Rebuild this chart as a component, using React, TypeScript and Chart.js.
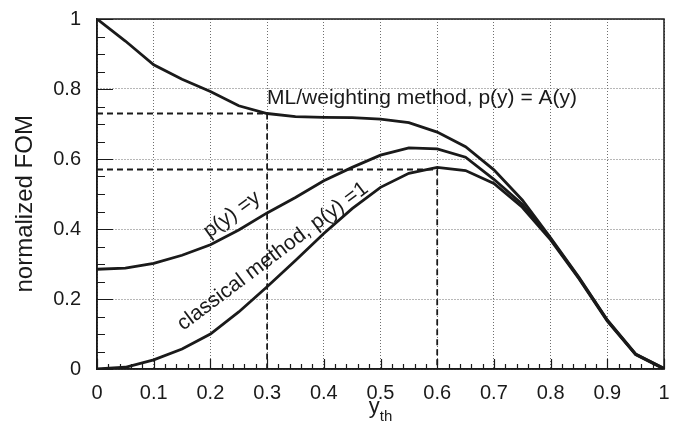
import React, { useEffect, useRef } from 'react';
import { Chart, registerables } from 'chart.js';

Chart.register(...registerables);

// ---- data ----
const xValues = [0, 0.05, 0.1, 0.15, 0.2, 0.25, 0.3, 0.35, 0.4, 0.45, 0.5, 0.55, 0.6, 0.65, 0.7, 0.75, 0.8, 0.85, 0.9, 0.95, 1.0];
const mlWeighting = [1.0, 0.937, 0.869, 0.828, 0.793, 0.752, 0.73, 0.721, 0.719, 0.718, 0.714, 0.704, 0.677, 0.635, 0.569, 0.483, 0.375, 0.262, 0.14, 0.043, 0.002];
const pyEqualsY = [0.285, 0.288, 0.302, 0.325, 0.355, 0.397, 0.446, 0.49, 0.538, 0.576, 0.611, 0.632, 0.629, 0.605, 0.542, 0.471, 0.372, 0.26, 0.139, 0.042, 0.001];
const classical = [0.0, 0.005, 0.026, 0.057, 0.1, 0.163, 0.235, 0.31, 0.387, 0.458, 0.519, 0.559, 0.576, 0.567, 0.53, 0.462, 0.369, 0.258, 0.137, 0.041, 0.0];

const guideAX = [0, 0.3, 0.3];
const guideAY = [0.73, 0.73, 0];
const guideBX = [0, 0.6, 0.6];
const guideBY = [0.57, 0.57, 0];

const yAxisTitle = 'normalized FOM';
const xAxisTitleMain = 'y';
const xAxisTitleSub = 'th';
const labelML = 'ML/weighting method, p(y) = A(y)';
const labelPY = 'p(y) =y';
const labelClassical = 'classical method, p(y) =1';

const FONT = "'Liberation Sans', Arial, Helvetica, sans-serif";
const INK = '#1a1a1a';

const pts = (xs: number[], ys: number[]) => xs.map((x, i) => ({ x, y: ys[i] }));
const fmt = (v: any) => String(Math.round(Number(v) * 10) / 10);

const overlayPlugin = {
  id: 'overlay',
  afterDatasetsDraw(chart: any) {
    const { ctx, chartArea: a, scales } = chart;
    const xs = scales.x;
    const ys = scales.y;
    ctx.save();
    // frame
    ctx.strokeStyle = INK;
    ctx.lineWidth = 1.5;
    ctx.setLineDash([]);
    ctx.strokeRect(a.left, a.top, a.right - a.left, a.bottom - a.top);
    // inward ticks
    ctx.lineWidth = 1.2;
    ctx.beginPath();
    for (let i = 0; i <= 50; i++) {
      const px = Math.round(xs.getPixelForValue(i / 50)) + 0.5;
      const len = i % 5 === 0 ? 10 : 5;
      ctx.moveTo(px, a.bottom);
      ctx.lineTo(px, a.bottom - len);
    }
    for (let i = 0; i <= 20; i++) {
      const py = Math.round(ys.getPixelForValue(i / 20)) + 0.5;
      const len = i % 4 === 0 ? 16 : 8;
      ctx.moveTo(a.left, py);
      ctx.lineTo(a.left + len, py);
    }
    ctx.stroke();

    // annotations
    ctx.fillStyle = INK;
    ctx.font = `21px ${FONT}`;
    ctx.textAlign = 'left';
    ctx.textBaseline = 'alphabetic';
    ctx.fillText(labelML, xs.getPixelForValue(0.3), ys.getPixelForValue(0.757));

    ctx.textAlign = 'center';
    ctx.textBaseline = 'middle';
    ctx.save();
    ctx.translate(xs.getPixelForValue(0.238), ys.getPixelForValue(0.441));
    ctx.rotate((-36 * Math.PI) / 180);
    ctx.fillText(labelPY, 0, 0);
    ctx.restore();

    ctx.save();
    ctx.translate(xs.getPixelForValue(0.31), ys.getPixelForValue(0.322));
    ctx.rotate((-37 * Math.PI) / 180);
    ctx.fillText(labelClassical, 0, 0);
    ctx.restore();

    // y axis title
    ctx.save();
    ctx.font = `24px ${FONT}`;
    ctx.translate(25, ys.getPixelForValue(0.472));
    ctx.rotate(-Math.PI / 2);
    ctx.fillText(yAxisTitle, 0, 0);
    ctx.restore();

    // x axis title with subscript
    const cx = xs.getPixelForValue(0.5);
    const base = a.bottom + 44;
    ctx.textBaseline = 'alphabetic';
    ctx.textAlign = 'left';
    ctx.font = `22px ${FONT}`;
    const wMain = ctx.measureText(xAxisTitleMain).width;
    ctx.font = `15px ${FONT}`;
    const wSub = ctx.measureText(xAxisTitleSub).width;
    const start = cx - (wMain + wSub) / 2;
    ctx.font = `22px ${FONT}`;
    ctx.fillText(xAxisTitleMain, start, base);
    ctx.font = `15px ${FONT}`;
    ctx.fillText(xAxisTitleSub, start + wMain, base + 8);
    ctx.restore();
  },
};

export default function App() {
  const ref = useRef<HTMLCanvasElement | null>(null);
  useEffect(() => {
    if (!ref.current) return;
    const curve = (label: string, ys: number[]) => ({
      label,
      data: pts(xValues, ys),
      borderColor: INK,
      borderWidth: 2.8,
      pointRadius: 0,
      tension: 0,
      fill: false,
    });
    const guide = (label: string, xs: number[], ys: number[]) => ({
      label,
      data: pts(xs, ys),
      borderColor: INK,
      borderWidth: 1.8,
      borderDash: [6, 4],
      pointRadius: 0,
      tension: 0,
      fill: false,
    });
    const chart = new Chart(ref.current, {
      type: 'line',
      data: {
        datasets: [
          guide('guide A', guideAX, guideAY),
          guide('guide B', guideBX, guideBY),
          curve(labelML, mlWeighting),
          curve(labelPY, pyEqualsY),
          curve(labelClassical, classical),
        ],
      },
      options: {
        animation: false,
        responsive: false,
        layout: { padding: { top: 19, right: 19, left: 0, bottom: 0 } },
        plugins: { legend: { display: false }, tooltip: { enabled: false }, title: { display: false } },
        scales: {
          x: {
            type: 'linear',
            min: 0,
            max: 1,
            afterFit: (s: any) => { s.height = 70; s.paddingLeft = 0; s.paddingRight = 0; s.paddingTop = 0; s.paddingBottom = 0; },
            ticks: { stepSize: 0.1, color: INK, padding: 12, font: { family: FONT, size: 20 }, callback: fmt },
            grid: { color: '#6e6e6e', lineWidth: 1, drawTicks: false },
            border: { display: true, color: INK, width: 1.5, dash: [1, 2] },
          },
          y: {
            type: 'linear',
            min: 0,
            max: 1,
            afterFit: (s: any) => { s.width = 97; s.paddingLeft = 0; s.paddingRight = 0; s.paddingTop = 0; s.paddingBottom = 0; },
            ticks: { stepSize: 0.2, color: INK, padding: 16, font: { family: FONT, size: 20 }, callback: fmt },
            grid: { color: '#6e6e6e', lineWidth: 1, drawTicks: false },
            border: { display: true, color: INK, width: 1.5, dash: [1, 2] },
          },
        },
      },
      plugins: [overlayPlugin],
    });
    return () => chart.destroy();
  }, []);
  return (
    <div style={{ position: 'absolute', left: 0, top: 0, width: 683, height: 439, background: '#fff' }}>
      <canvas ref={ref} width={683} height={439} style={{ display: 'block' }} />
    </div>
  );
}
